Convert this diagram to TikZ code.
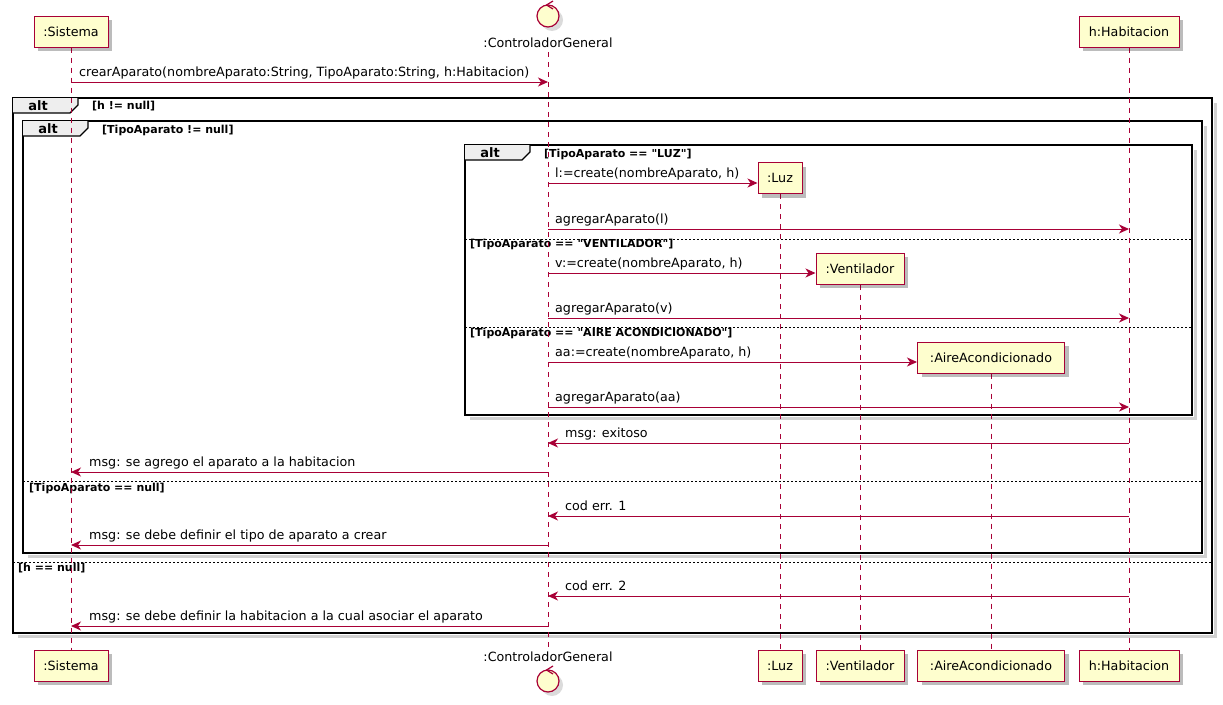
\documentclass[tikz,border=0pt]{standalone}
\usepackage{fontspec}
\setmainfont{DejaVu Sans}
\newfontfamily\plainfam{DejaVu Sans}[Ligatures=ResetAll]
\usetikzlibrary{arrows.meta,shadows}
\definecolor{pred}{HTML}{A80036}
\definecolor{pfill}{HTML}{FEFECE}
\definecolor{ptab}{HTML}{EEEEEE}
\newcommand{\msgfont}{\fontsize{12.7}{15}\selectfont}
\newcommand{\grdfont}{\plainfam\bfseries\fontsize{11}{13}\selectfont}
\newcommand{\altfont}{\bfseries\fontsize{13}{15}\selectfont}
\begin{document}
\begin{tikzpicture}[x=1pt,y=-1pt,
  part/.style={draw=pred, fill=pfill, line width=1pt, minimum height=31pt, inner sep=0pt, font=\msgfont,
    drop shadow={shadow xshift=4pt, shadow yshift=-4pt, fill=black, opacity=0.14}},
  ctrl/.style={circle, draw=pred, fill=pfill, line width=1.2pt, minimum size=22pt, inner sep=0pt,
    drop shadow={shadow xshift=4pt, shadow yshift=-4pt, fill=black, opacity=0.14}},
  ctrllbl/.style={font=\msgfont, inner sep=4pt},
  life/.style={draw=pred, line width=0.9pt, dash pattern=on 5pt off 5pt},
  msg/.style={draw=pred, line width=1pt, -{Stealth[length=10pt,width=9pt,inset=3pt]}},
  lbl/.style={font=\msgfont, anchor=base west, inner sep=0pt},
  frame/.style={draw=black, line width=1.6pt},
  fshadow/.style={draw=black!18, line width=3pt},
  alttxt/.style={font=\altfont, inner sep=0pt},
  grd/.style={font=\grdfont, anchor=base west, inner sep=0pt},
  sep/.style={draw=black, line width=0.8pt, dash pattern=on 2pt off 2pt},
]
\useasboundingbox (0,0) rectangle (1223,704);

% ---------- frames ----------
% outer alt
\draw[fshadow] (1215.5,103) -- (1215.5,636.5) -- (18,636.5);
\draw[frame] (13,98) rectangle (1212,633);
\fill[ptab] (13,98) -- (78,98) -- (78,105) -- (70,113) -- (13,113) -- cycle;
\draw[black, line width=1.3pt] (78,98) -- (78,105) -- (70,113) -- (13,113);
\node[alttxt] (alt1) at (38,105.5) {alt};
\node[grd] (g1) at (92,109) {[h != null]};
\draw[sep] (13,562) -- (1212,562);
\node[grd] (g1b) at (18,571.5) {[h == null]};

% second alt
\draw[fshadow] (1205.5,126) -- (1205.5,556.5) -- (28,556.5);
\draw[frame] (23,121) rectangle (1202,553);
\fill[ptab] (23,121) -- (88,121) -- (88,128) -- (80,136) -- (23,136) -- cycle;
\draw[black, line width=1.3pt] (88,121) -- (88,128) -- (80,136) -- (23,136);
\node[alttxt] (alt2) at (48,128.5) {alt};
\node[grd] (g2) at (102,133) {[TipoAparato != null]};
\draw[sep] (23,481) -- (1202,481);
\node[grd] (g2b) at (29,491) {[TipoAparato == null]};

% third alt
\draw[fshadow] (1195.5,150) -- (1195.5,418.5) -- (470,418.5);
\draw[frame] (465,145) rectangle (1192,415);
\fill[ptab] (465,145) -- (530,145) -- (530,152) -- (522,160) -- (465,160) -- cycle;
\draw[black, line width=1.3pt] (530,145) -- (530,152) -- (522,160) -- (465,160);
\node[alttxt] (alt3) at (490,152.5) {alt};
\node[grd] (g3) at (544,157) {[TipoAparato == "LUZ"]};
\draw[sep] (465,239) -- (1192,239);
\node[grd] (g3b) at (470,247.5) {[TipoAparato == "VENTILADOR"]};
\draw[sep] (465,327) -- (1192,327);
\node[grd] (g3c) at (470,336.5) {[TipoAparato == "AIRE ACONDICIONADO"]};

% ---------- participants ----------
\node[part, minimum width=74pt] (sisT) at (71,31.5) {:Sistema};
\node[part, minimum width=74pt] (sisB) at (71,665.5) {:Sistema};
\node[ctrl] (ctlIconT) at (548,16) {};
\draw[pred, line width=1.2pt] (553,1) -- (546.5,5) -- (553,9);
\node[ctrllbl] (ctlT) at (548,43) {:ControladorGeneral};
\node[ctrllbl] (ctlB) at (548,657) {:ControladorGeneral};
\node[ctrl] (ctlIconB) at (548,681) {};
\draw[pred, line width=1.2pt] (553,666) -- (546.5,670) -- (553,674);
\node[part, minimum width=44pt] (luzT) at (780,178) {:Luz};
\node[part, minimum width=44pt] (luzB) at (780,665.5) {:Luz};
\node[part, minimum width=88pt] (venT) at (860,268.5) {:Ventilador};
\node[part, minimum width=88pt] (venB) at (860,665.5) {:Ventilador};
\node[part, minimum width=147pt] (aireT) at (991,357.5) {:AireAcondicionado};
\node[part, minimum width=147pt] (aireB) at (991,665.5) {:AireAcondicionado};
\node[part, minimum width=100pt] (habT) at (1129,31.5) {h:Habitacion};
\node[part, minimum width=100pt] (habB) at (1129,665.5) {h:Habitacion};

% ---------- lifelines ----------
\draw[life] (sisT.south) -- (sisB.north);
\draw[life] (ctlT.south) -- (ctlB.north);
\draw[life] (luzT.south) -- (luzB.north);
\draw[life] (venT.south) -- (venB.north);
\draw[life] (aireT.south) -- (aireB.north);
\draw[life] (habT.south) -- (habB.north);

% redraw boxes above lifelines
\node[part, minimum width=74pt] at (71,31.5) {:Sistema};
\node[part, minimum width=74pt] at (71,665.5) {:Sistema};
\node[part, minimum width=44pt] at (780,178) {:Luz};
\node[part, minimum width=44pt] at (780,665.5) {:Luz};
\node[part, minimum width=88pt] at (860,268.5) {:Ventilador};
\node[part, minimum width=88pt] at (860,665.5) {:Ventilador};
\node[part, minimum width=147pt] at (991,357.5) {:AireAcondicionado};
\node[part, minimum width=147pt] at (991,665.5) {:AireAcondicionado};
\node[part, minimum width=100pt] at (1129,31.5) {h:Habitacion};
\node[part, minimum width=100pt] at (1129,665.5) {h:Habitacion};

% ---------- messages ----------
\coordinate (m1) at (0,82);
\coordinate (m2) at (0,183);
\coordinate (m3) at (0,229);
\coordinate (m4) at (0,273);
\coordinate (m5) at (0,318);
\coordinate (m6) at (0,362);
\coordinate (m7) at (0,407);
\coordinate (m8) at (0,443);
\coordinate (m9) at (0,472);
\coordinate (m10) at (0,516);
\coordinate (m11) at (0,545);
\coordinate (m12) at (0,596);
\coordinate (m13) at (0,626);

\draw[msg] (sisT |- m1) -- (ctlT |- m1);
\node[lbl] (t1) at (79,76.5) {crearAparato(nombreAparato:String, TipoAparato:String, h:Habitacion)};
\draw[msg] (ctlT |- m2) -- (luzT.west |- m2);
\node[lbl] (t2) at (555,177.5) {l:=create(nombreAparato, h)};
\draw[msg] (ctlT |- m3) -- (habT |- m3);
\node[lbl] (t3) at (555,223.5) {agregarAparato(l)};
\draw[msg] (ctlT |- m4) -- (venT.west |- m4);
\node[lbl] (t4) at (555,267.5) {v:=create(nombreAparato, h)};
\draw[msg] (ctlT |- m5) -- (habT |- m5);
\node[lbl] (t5) at (555,312.5) {agregarAparato(v)};
\draw[msg] (ctlT |- m6) -- (aireT.west |- m6);
\node[lbl] (t6) at (555,356.5) {aa:=create(nombreAparato, h)};
\draw[msg] (ctlT |- m7) -- (habT |- m7);
\node[lbl] (t7) at (555,401.5) {agregarAparato(aa)};
\draw[msg] (habT |- m8) -- (ctlT |- m8);
\node[lbl] (t8) at (565,437.5) {msg: exitoso};
\draw[msg] (ctlT |- m9) -- (sisT |- m9);
\node[lbl] (t9) at (89,466.5) {msg: se agrego el aparato a la habitacion};
\draw[msg] (habT |- m10) -- (ctlT |- m10);
\node[lbl] (t10) at (565,510.5) {cod err. 1};
\draw[msg] (ctlT |- m11) -- (sisT |- m11);
\node[lbl] (t11) at (89,539.5) {msg: se debe definir el tipo de aparato a crear};
\draw[msg] (habT |- m12) -- (ctlT |- m12);
\node[lbl] (t12) at (565,590.5) {cod err. 2};
\draw[msg] (ctlT |- m13) -- (sisT |- m13);
\node[lbl] (t13) at (89,620.5) {msg: se debe definir la habitacion a la cual asociar el aparato};
\end{tikzpicture}
\end{document}
